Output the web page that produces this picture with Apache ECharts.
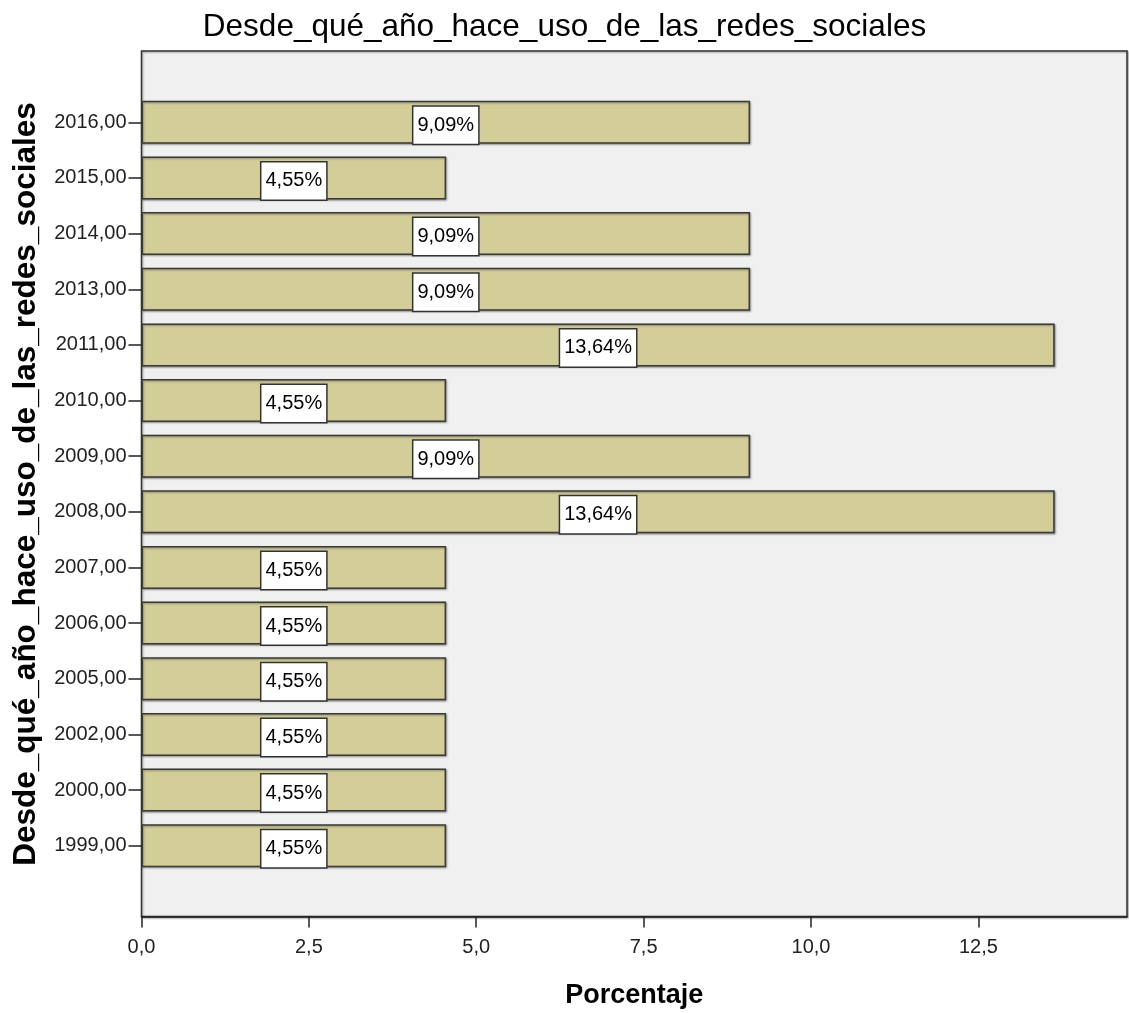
<!DOCTYPE html>
<html>
<head>
<meta charset="utf-8">
<script src="https://cdn.jsdelivr.net/npm/echarts@6/dist/echarts.min.js"></script>
<style>
  html, body { margin: 0; padding: 0; background: #fff; }
  #chart { width: 1129px; height: 1013px; }
</style>
</head>
<body>
<div id="chart"></div>
<script>
// Year categories (bottom to top) and the share of respondents for each
const years = ['1999,00', '2000,00', '2002,00', '2005,00', '2006,00', '2007,00', '2008,00',
               '2009,00', '2010,00', '2011,00', '2013,00', '2014,00', '2015,00', '2016,00'];
const percentages = [4.55, 4.55, 4.55, 4.55, 4.55, 4.55, 13.64,
                     9.09, 4.55, 13.64, 9.09, 9.09, 4.55, 9.09];
const xTicks = [0, 2.5, 5, 7.5, 10, 12.5];
const xMax = 14.72;

const sans = '"Liberation Sans", Arial, sans-serif';
const fmtComma = (v, d) => v.toFixed(d).replace('.', ',');

const chart = echarts.init(document.getElementById('chart'), null, { renderer: 'canvas' });

chart.setOption({
  backgroundColor: '#ffffff',
  animation: false,
  title: {
    text: 'Desde_qué_año_hace_uso_de_las_redes_sociales',
    left: 'center',
    top: 6,
    textStyle: { fontFamily: sans, fontSize: 31.5, fontWeight: 'normal', color: '#000' }
  },
  grid: [
    // outer frame with the grey plot background and the visible value axis
    {
      left: 141.5, right: 2, top: 51, bottom: 96.5,
      outerBoundsMode: 'none', containLabel: false,
      show: true, backgroundColor: '#f0f0f0',
      borderColor: '#333', borderWidth: 1.5,
      shadowColor: 'rgba(0,0,0,0.35)', shadowBlur: 2, shadowOffsetX: 1, shadowOffsetY: 1
    },
    // inner band area holding the bars
    {
      left: 141.5, right: 2, top: 94.5, bottom: 139.5,
      outerBoundsMode: 'none', containLabel: false
    }
  ],
  xAxis: [
    {
      gridIndex: 0, type: 'value', min: 0, max: xMax,
      name: 'Porcentaje', nameLocation: 'middle', nameGap: 66,
      nameTextStyle: { fontFamily: sans, fontSize: 27, fontWeight: 'bold', color: '#000' },
      axisLine: { show: true, lineStyle: { color: '#222', width: 1.5 } },
      axisTick: { show: true, length: 11, customValues: xTicks, lineStyle: { color: '#222', width: 1.5 } },
      axisLabel: {
        customValues: xTicks, margin: 21,
        fontFamily: sans, fontSize: 20, color: '#222',
        formatter: v => fmtComma(v, 1)
      },
      splitLine: { show: false }
    },
    {
      gridIndex: 1, type: 'value', min: 0, max: xMax, show: false,
      splitLine: { show: false }
    }
  ],
  yAxis: [
    {
      gridIndex: 0, type: 'value', min: 0, max: 1,
      axisLine: { show: false }, axisTick: { show: false },
      axisLabel: { show: false }, splitLine: { show: false }
    },
    {
      gridIndex: 1, type: 'category', data: years,
      name: 'Desde_qué_año_hace_uso_de_las_redes_sociales',
      nameLocation: 'middle', nameGap: 99,
      nameTextStyle: { fontFamily: sans, fontSize: 31.5, fontWeight: 'bold', color: '#000' },
      axisLine: { show: false },
      axisTick: { show: true, alignWithLabel: true, length: 13, lineStyle: { color: '#222', width: 1.5 } },
      axisLabel: { margin: 15, fontFamily: sans, fontSize: 20, color: '#222' },
      splitLine: { show: false }
    }
  ],
  series: [
    {
      type: 'bar',
      xAxisIndex: 1, yAxisIndex: 1,
      data: percentages,
      barWidth: 43,
      itemStyle: {
        color: '#d3ce98',
        borderColor: '#3a3a3a', borderWidth: 1.5,
        shadowColor: 'rgba(0,0,0,0.35)', shadowBlur: 2, shadowOffsetX: 1, shadowOffsetY: 1
      },
      label: {
        show: true, position: 'inside', offset: [0, 3],
        formatter: p => fmtComma(p.value, 2) + '%',
        fontFamily: sans, fontSize: 20, lineHeight: 22, color: '#000',
        backgroundColor: '#ffffff', borderColor: '#333', borderWidth: 1.5,
        padding: [8, 4, 7, 4]
      }
    }
  ]
});
</script>
</body>
</html>
